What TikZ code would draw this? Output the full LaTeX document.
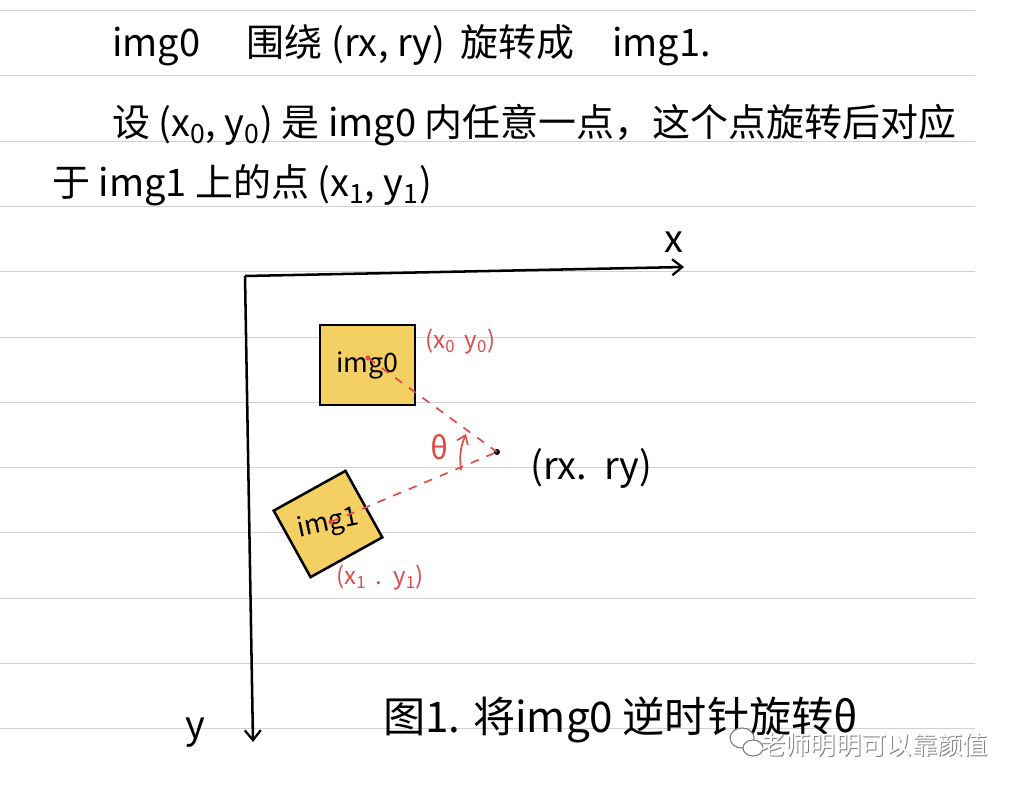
\documentclass[tikz,border=0pt]{standalone}
\usepackage{fontspec}
\setmainfont{Noto Sans CJK SC}
\usetikzlibrary{arrows.meta, positioning}
\definecolor{notered}{HTML}{E04A4A}
\definecolor{noteyellow}{HTML}{F4CF62}
\definecolor{ruleline}{HTML}{D2D2D2}
\tikzset{
  hand/.style   ={font=\fontsize{27}{30}\selectfont, inner sep=0pt, anchor=west},
  redlbl/.style ={text=notered, font=\fontsize{17}{19}\selectfont, inner sep=0pt},
  imgbox/.style ={draw, line width=1.8pt, fill=noteyellow, inner sep=0pt,
                  font=\fontsize{19}{21}\selectfont},
  axis/.style   ={line width=1.8pt, -{Straight Barb[length=2.5mm, width=4mm, line width=1.6pt]}},
  rotln/.style  ={notered, line width=1.2pt, dash pattern=on 6pt off 6pt},
  wm/.style     ={font=\fontsize{18}{20}\selectfont, inner sep=0pt, anchor=west},
}

\begin{document}
\begin{tikzpicture}[x=0.025cm, y=-0.025cm]
  \useasboundingbox[fill=white] (0,0) rectangle (1016,788);
  % ruled paper
  \foreach \k in {0,...,11}
    \draw[ruleline, line width=0.7pt] (0,10.5+65.3*\k) -- (975,10.5+65.3*\k);

  % notes
  \node[hand] (l1) at (112,45)  {img0\quad\ 围绕 (rx, ry)\, 旋转成\quad img1.};
  \node[hand] (l2) at (112,125) {设 (x\textsubscript{0}, y\textsubscript{0}) 是 img0 内任意一点，这个点旋转后对应};
  \node[hand] (l3) at (52,185)  {于 img1 上的点 (x\textsubscript{1}, y\textsubscript{1})};

  % axes
  \coordinate (o)  at (245,276);
  \coordinate (xe) at (684,267);
  \coordinate (ye) at (253,742);
  \draw[axis] (o) -- (xe);
  \draw[axis] (o) -- (ye);
  \node[hand, anchor=center] (xl) at (674,242) {x};
  \node[hand, anchor=center] (yl) at (195,733) {y};

  % images
  \node[imgbox, minimum width=2.375cm, minimum height=2cm] (img0) at (367.5,365) {img0};
  \node[imgbox, minimum width=2.05cm, minimum height=1.9cm, rotate=29] (img1) at (328,524)
    {\rotatebox{-17}{img1}};

  % rotation
  \coordinate (p0) at (368,358);
  \coordinate (p1) at (331,522);
  \coordinate (c)  at (497,452);
  \fill[notered] (p0) circle (2.5);
  \fill[notered] (p1) circle (2.5);
  \fill (c) circle (3);
  \draw[rotln] (p0) -- (c);
  \draw[rotln] (p1) -- (c);
  \coordinate (a1) at (461,470);
  \coordinate (a0) at (466,434);
  \draw[notered, line width=1.2pt, -{Straight Barb[length=2mm, width=3mm]}] (a1) to[bend left=15] (a0);
  \node[text=notered, font=\fontsize{22}{24}\selectfont, inner sep=0pt] (th) at (440,447) {θ};

  \node[redlbl, anchor=west] (p0l) at (425,342) {(x\textsubscript{0}\,  y\textsubscript{0})};
  \node[redlbl, anchor=west] (p1l) at (336,578) {(x\textsubscript{1}\, .\, y\textsubscript{1})};
  \node[hand] (cl) at (530,468) {(rx.\ \ ry)};

  % caption
  \node[hand, font=\fontsize{30}{33}\selectfont] (cap) at (383,720) {图1. 将img0 逆时针旋转θ};

  % watermark
  \draw[gray, line width=0.8pt, fill=white] (742,738) ellipse (12 and 10);
  \draw[gray, line width=0.8pt, fill=white] (753,748) ellipse (10 and 8);
  \node[wm, text=gray] at (761,746) {老师明明可以靠颜值};
  \node[wm, text=white] (wmt) at (760,745) {老师明明可以靠颜值};
\end{tikzpicture}
\end{document}
